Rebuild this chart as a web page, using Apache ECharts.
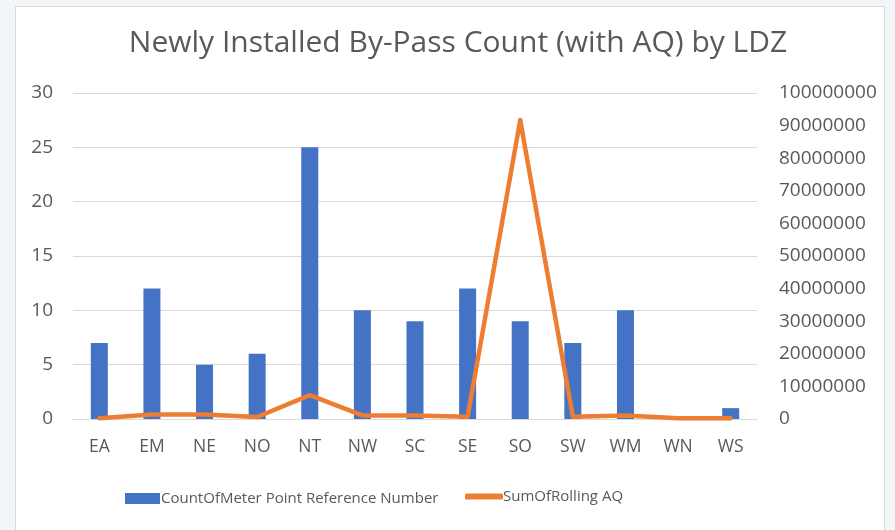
<!DOCTYPE html>
<html>
<head>
<meta charset="utf-8">
<script src="https://cdn.jsdelivr.net/npm/echarts@6/dist/echarts.min.js"></script>
<style>
  html, body { margin: 0; padding: 0; background: #f3f6f8; }
  .panel {
    position: absolute; left: 15px; top: 6px; width: 870px; height: 530px;
    background: #fff; border: 1px solid #d9d9d9; box-sizing: border-box;
  }
  #chart { position: absolute; left: 0; top: 0; width: 895px; height: 530px; }
</style>
</head>
<body>
<div class="panel"></div>
<div id="chart"></div>
<script>
const categories = ["EA", "EM", "NE", "NO", "NT", "NW", "SC", "SE", "SO", "SW", "WM", "WN", "WS"];
const meterCounts = [7, 12, 5, 6, 25, 10, 9, 12, 9, 7, 10, 0, 1];
const rollingAQ = [200000, 1400000, 1400000, 600000, 7300000, 1100000, 1100000, 700000, 91700000, 700000, 1100000, 200000, 200000];
const leftTicks = { min: 0, max: 30, interval: 5 };
const rightTicks = { min: 0, max: 100000000, interval: 10000000 };

const textColor = "#595959";
const font = "Open Sans";
const chart = echarts.init(document.getElementById("chart"), null, { renderer: "canvas" });
chart.setOption({
  animation: false,
  title: {
    text: "Newly Installed By-Pass Count (with AQ) by LDZ",
    left: 453,
    top: 23,
    textAlign: "center",
    textStyle: { fontFamily: font, fontSize: 30, fontWeight: "normal", color: textColor },
  },
  grid: { left: 73, right: 138, top: 93, bottom: 111 },
  legend: [
    {
      bottom: 19,
      left: 120,
      itemWidth: 35,
      itemHeight: 11,
      textStyle: { fontFamily: font, fontSize: 15, color: textColor, padding: [0, 0, 0, -4] },
      data: [{ name: "CountOfMeter Point Reference Number", icon: "rect" }],
    },
    {
      bottom: 21,
      left: 460,
      itemWidth: 38,
      itemHeight: 6,
      textStyle: { fontFamily: font, fontSize: 15, color: textColor, padding: [0, 0, 0, -5] },
      data: [{ name: "SumOfRolling AQ", icon: "roundRect" }],
    },
  ],
  xAxis: {
    type: "category",
    data: categories,
    axisLine: { lineStyle: { color: "#d9d9d9", width: 1 } },
    axisTick: { show: false },
    axisLabel: { fontFamily: font, fontSize: 17.5, color: textColor, margin: 19 },
  },
  yAxis: [
    {
      type: "value",
      ...leftTicks,
      axisLine: { show: false },
      axisTick: { show: false },
      splitLine: { lineStyle: { color: "#d9d9d9", width: 1 } },
      axisLabel: { fontFamily: font, fontSize: 19, color: textColor, margin: 20 },
    },
    {
      type: "value",
      ...rightTicks,
      axisLine: { show: false },
      axisTick: { show: false },
      splitLine: { show: false },
      axisLabel: {
        fontFamily: font, fontSize: 19, color: textColor, margin: 22,
        formatter: (v) => String(v),
      },
    },
  ],
  series: [
    {
      name: "CountOfMeter Point Reference Number",
      type: "bar",
      data: meterCounts,
      barWidth: 17,
      itemStyle: { color: "#4472c4" },
    },
    {
      name: "SumOfRolling AQ",
      type: "line",
      yAxisIndex: 1,
      data: rollingAQ,
      symbol: "none",
      lineStyle: { color: "#ed7d31", width: 4.5, cap: "round", join: "round" },
      itemStyle: { color: "#ed7d31" },
    },
  ],
});
</script>
</body>
</html>
